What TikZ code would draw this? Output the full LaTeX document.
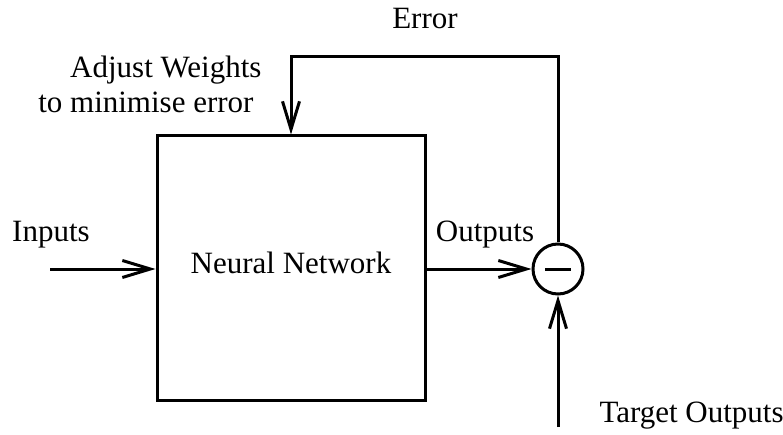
\documentclass[tikz,border=0pt]{standalone}
\usepackage{fontspec}
\setmainfont{Liberation Serif}
\usetikzlibrary{arrows.meta}
\begin{document}
\begin{tikzpicture}[x=1pt,y=-1pt,
  line width=3pt,
  every node/.style={font=\fontsize{31}{36}\selectfont},
  arr/.style={-{Straight Barb[length=28pt,width=17pt,line width=3pt]}},
  lbl/.style={inner sep=0pt},
  netbox/.style={draw,minimum width=268pt,minimum height=264pt,inner sep=0pt,
    text height=21pt,text depth=10pt},
  sumnode/.style={draw,circle,minimum size=50pt,inner sep=0pt}]
  \useasboundingbox (0,0) rectangle (783,435);

  % main blocks
  \node[netbox] (nn) at (291,268) {Neural Network};
  \node[sumnode] (sum) at (558,269) {};
  \draw ([xshift=-13pt]sum.center) -- ([xshift=13pt]sum.center);

  % free ends of the connectors
  \coordinate (in) at (50,269);
  \coordinate (fb) at (558,57);
  \coordinate (tgt) at (558,427);

  % connectors
  \draw[arr] (in) -- (in -| nn.west);
  \draw[arr] (sum.west -| nn.east) -- (sum.west);
  \draw[arr] (sum.north) -- (fb) -| (nn.north);
  \draw[arr] (tgt) -- (sum.south);

  % labels
  \node[lbl,anchor=base] (linputs) at (51,242) {Inputs};
  \node[lbl,anchor=base] (loutputs) at (485,242) {Outputs};
  \node[lbl,anchor=base] (lerror) at (425,29) {Error};
  \node[lbl,anchor=base east] (ladjust) at (263,78) {Adjust Weights};
  \node[lbl,anchor=base east] (lmin) at (255,113) {to minimise error};
  \node[lbl,anchor=base west] (ltarget) at (598,422) {Target Outputs};
\end{tikzpicture}
\end{document}
